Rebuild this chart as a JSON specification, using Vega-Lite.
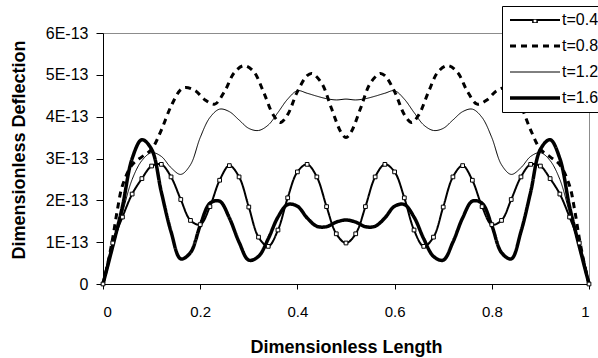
{
  "$schema": "https://vega.github.io/schema/vega-lite/v6.json",
  "width": 486,
  "height": 251,
  "autosize": {"type": "none"},
  "padding": {"left": 103, "top": 33, "right": 9, "bottom": 74},
  "background": "white",
  "config": {
    "view": {"stroke": "#8c8c8c", "strokeWidth": 1},
    "axis": {"grid": false, "domainColor": "#000", "tickColor": "#000", "labelColor": "#000", "titleColor": "#000", "labelFont": "Liberation Sans", "titleFont": "Liberation Sans", "titleFontWeight": "bold", "titleFontSize": 18},
    "legend": {"labelFont": "Liberation Sans"}
  },
  "data": {"values": [
    {"s":"t=0.4","x":0,"y":0},{"s":"t=0.4","x":0.02,"y":0.98e-13},{"s":"t=0.4","x":0.04,"y":1.6e-13},{"s":"t=0.4","x":0.06,"y":2.15e-13},{"s":"t=0.4","x":0.08,"y":2.52e-13},{"s":"t=0.4","x":0.10,"y":2.82e-13},{"s":"t=0.4","x":0.12,"y":2.86e-13},{"s":"t=0.4","x":0.14,"y":2.56e-13},{"s":"t=0.4","x":0.16,"y":2.02e-13},{"s":"t=0.4","x":0.18,"y":1.52e-13},{"s":"t=0.4","x":0.20,"y":1.42e-13},{"s":"t=0.4","x":0.22,"y":1.85e-13},{"s":"t=0.4","x":0.24,"y":2.48e-13},{"s":"t=0.4","x":0.26,"y":2.83e-13},{"s":"t=0.4","x":0.28,"y":2.56e-13},{"s":"t=0.4","x":0.30,"y":1.84e-13},{"s":"t=0.4","x":0.32,"y":1.12e-13},{"s":"t=0.4","x":0.34,"y":0.9e-13},{"s":"t=0.4","x":0.36,"y":1.29e-13},{"s":"t=0.4","x":0.38,"y":2.06e-13},{"s":"t=0.4","x":0.40,"y":2.68e-13},{"s":"t=0.4","x":0.42,"y":2.86e-13},{"s":"t=0.4","x":0.44,"y":2.56e-13},{"s":"t=0.4","x":0.46,"y":1.85e-13},{"s":"t=0.4","x":0.48,"y":1.2e-13},{"s":"t=0.4","x":0.50,"y":0.98e-13},{"s":"t=0.4","x":0.52,"y":1.2e-13},{"s":"t=0.4","x":0.54,"y":1.85e-13},{"s":"t=0.4","x":0.56,"y":2.56e-13},{"s":"t=0.4","x":0.58,"y":2.86e-13},{"s":"t=0.4","x":0.60,"y":2.68e-13},{"s":"t=0.4","x":0.62,"y":2.06e-13},{"s":"t=0.4","x":0.64,"y":1.29e-13},{"s":"t=0.4","x":0.66,"y":0.9e-13},{"s":"t=0.4","x":0.68,"y":1.12e-13},{"s":"t=0.4","x":0.70,"y":1.84e-13},{"s":"t=0.4","x":0.72,"y":2.56e-13},{"s":"t=0.4","x":0.74,"y":2.83e-13},{"s":"t=0.4","x":0.76,"y":2.48e-13},{"s":"t=0.4","x":0.78,"y":1.85e-13},{"s":"t=0.4","x":0.80,"y":1.42e-13},{"s":"t=0.4","x":0.82,"y":1.52e-13},{"s":"t=0.4","x":0.84,"y":2.02e-13},{"s":"t=0.4","x":0.86,"y":2.56e-13},{"s":"t=0.4","x":0.88,"y":2.86e-13},{"s":"t=0.4","x":0.90,"y":2.82e-13},{"s":"t=0.4","x":0.92,"y":2.52e-13},{"s":"t=0.4","x":0.94,"y":2.15e-13},{"s":"t=0.4","x":0.96,"y":1.6e-13},{"s":"t=0.4","x":0.98,"y":0.98e-13},{"s":"t=0.4","x":1,"y":0},
    {"s":"t=0.8","x":0,"y":0},{"s":"t=0.8","x":0.01,"y":0.5e-13},{"s":"t=0.8","x":0.02,"y":1.1e-13},{"s":"t=0.8","x":0.03,"y":1.8e-13},{"s":"t=0.8","x":0.04,"y":2.35e-13},{"s":"t=0.8","x":0.06,"y":2.85e-13},{"s":"t=0.8","x":0.08,"y":3.04e-13},{"s":"t=0.8","x":0.10,"y":3.22e-13},{"s":"t=0.8","x":0.12,"y":3.68e-13},{"s":"t=0.8","x":0.14,"y":4.25e-13},{"s":"t=0.8","x":0.16,"y":4.65e-13},{"s":"t=0.8","x":0.17,"y":4.7e-13},{"s":"t=0.8","x":0.19,"y":4.62e-13},{"s":"t=0.8","x":0.21,"y":4.4e-13},{"s":"t=0.8","x":0.23,"y":4.3e-13},{"s":"t=0.8","x":0.25,"y":4.6e-13},{"s":"t=0.8","x":0.27,"y":5.05e-13},{"s":"t=0.8","x":0.29,"y":5.22e-13},{"s":"t=0.8","x":0.31,"y":5.08e-13},{"s":"t=0.8","x":0.33,"y":4.6e-13},{"s":"t=0.8","x":0.35,"y":4.05e-13},{"s":"t=0.8","x":0.365,"y":3.86e-13},{"s":"t=0.8","x":0.38,"y":4.05e-13},{"s":"t=0.8","x":0.40,"y":4.6e-13},{"s":"t=0.8","x":0.42,"y":4.98e-13},{"s":"t=0.8","x":0.43,"y":5.03e-13},{"s":"t=0.8","x":0.45,"y":4.8e-13},{"s":"t=0.8","x":0.47,"y":4.2e-13},{"s":"t=0.8","x":0.49,"y":3.62e-13},{"s":"t=0.8","x":0.50,"y":3.5e-13},{"s":"t=0.8","x":0.51,"y":3.62e-13},{"s":"t=0.8","x":0.53,"y":4.2e-13},{"s":"t=0.8","x":0.55,"y":4.8e-13},{"s":"t=0.8","x":0.57,"y":5.03e-13},{"s":"t=0.8","x":0.58,"y":4.98e-13},{"s":"t=0.8","x":0.60,"y":4.6e-13},{"s":"t=0.8","x":0.62,"y":4.05e-13},{"s":"t=0.8","x":0.635,"y":3.86e-13},{"s":"t=0.8","x":0.65,"y":4.05e-13},{"s":"t=0.8","x":0.67,"y":4.6e-13},{"s":"t=0.8","x":0.69,"y":5.08e-13},{"s":"t=0.8","x":0.71,"y":5.22e-13},{"s":"t=0.8","x":0.73,"y":5.05e-13},{"s":"t=0.8","x":0.75,"y":4.6e-13},{"s":"t=0.8","x":0.77,"y":4.3e-13},{"s":"t=0.8","x":0.79,"y":4.4e-13},{"s":"t=0.8","x":0.81,"y":4.62e-13},{"s":"t=0.8","x":0.83,"y":4.7e-13},{"s":"t=0.8","x":0.84,"y":4.65e-13},{"s":"t=0.8","x":0.86,"y":4.25e-13},{"s":"t=0.8","x":0.88,"y":3.68e-13},{"s":"t=0.8","x":0.90,"y":3.22e-13},{"s":"t=0.8","x":0.92,"y":3.04e-13},{"s":"t=0.8","x":0.94,"y":2.85e-13},{"s":"t=0.8","x":0.96,"y":2.35e-13},{"s":"t=0.8","x":0.97,"y":1.8e-13},{"s":"t=0.8","x":0.98,"y":1.1e-13},{"s":"t=0.8","x":0.99,"y":0.5e-13},{"s":"t=0.8","x":1,"y":0},
    {"s":"t=1.2","x":0,"y":0},{"s":"t=1.2","x":0.02,"y":0.85e-13},{"s":"t=1.2","x":0.04,"y":1.7e-13},{"s":"t=1.2","x":0.06,"y":2.5e-13},{"s":"t=1.2","x":0.08,"y":2.95e-13},{"s":"t=1.2","x":0.10,"y":3.14e-13},{"s":"t=1.2","x":0.12,"y":3.05e-13},{"s":"t=1.2","x":0.14,"y":2.78e-13},{"s":"t=1.2","x":0.16,"y":2.62e-13},{"s":"t=1.2","x":0.18,"y":2.85e-13},{"s":"t=1.2","x":0.20,"y":3.5e-13},{"s":"t=1.2","x":0.22,"y":3.98e-13},{"s":"t=1.2","x":0.24,"y":4.18e-13},{"s":"t=1.2","x":0.26,"y":4.12e-13},{"s":"t=1.2","x":0.28,"y":3.92e-13},{"s":"t=1.2","x":0.30,"y":3.72e-13},{"s":"t=1.2","x":0.32,"y":3.67e-13},{"s":"t=1.2","x":0.34,"y":3.8e-13},{"s":"t=1.2","x":0.36,"y":4.1e-13},{"s":"t=1.2","x":0.38,"y":4.42e-13},{"s":"t=1.2","x":0.40,"y":4.62e-13},{"s":"t=1.2","x":0.42,"y":4.56e-13},{"s":"t=1.2","x":0.44,"y":4.49e-13},{"s":"t=1.2","x":0.46,"y":4.43e-13},{"s":"t=1.2","x":0.48,"y":4.4e-13},{"s":"t=1.2","x":0.50,"y":4.42e-13},{"s":"t=1.2","x":0.52,"y":4.4e-13},{"s":"t=1.2","x":0.54,"y":4.43e-13},{"s":"t=1.2","x":0.56,"y":4.49e-13},{"s":"t=1.2","x":0.58,"y":4.56e-13},{"s":"t=1.2","x":0.60,"y":4.62e-13},{"s":"t=1.2","x":0.62,"y":4.42e-13},{"s":"t=1.2","x":0.64,"y":4.1e-13},{"s":"t=1.2","x":0.66,"y":3.8e-13},{"s":"t=1.2","x":0.68,"y":3.67e-13},{"s":"t=1.2","x":0.70,"y":3.72e-13},{"s":"t=1.2","x":0.72,"y":3.92e-13},{"s":"t=1.2","x":0.74,"y":4.12e-13},{"s":"t=1.2","x":0.76,"y":4.18e-13},{"s":"t=1.2","x":0.78,"y":3.98e-13},{"s":"t=1.2","x":0.80,"y":3.5e-13},{"s":"t=1.2","x":0.82,"y":2.85e-13},{"s":"t=1.2","x":0.84,"y":2.62e-13},{"s":"t=1.2","x":0.86,"y":2.78e-13},{"s":"t=1.2","x":0.88,"y":3.05e-13},{"s":"t=1.2","x":0.90,"y":3.14e-13},{"s":"t=1.2","x":0.92,"y":2.95e-13},{"s":"t=1.2","x":0.94,"y":2.5e-13},{"s":"t=1.2","x":0.96,"y":1.7e-13},{"s":"t=1.2","x":0.98,"y":0.85e-13},{"s":"t=1.2","x":1,"y":0},
    {"s":"t=1.6","x":0,"y":0},{"s":"t=1.6","x":0.02,"y":0.9e-13},{"s":"t=1.6","x":0.04,"y":1.85e-13},{"s":"t=1.6","x":0.06,"y":3.0e-13},{"s":"t=1.6","x":0.08,"y":3.45e-13},{"s":"t=1.6","x":0.10,"y":3.22e-13},{"s":"t=1.6","x":0.12,"y":2.2e-13},{"s":"t=1.6","x":0.14,"y":1.25e-13},{"s":"t=1.6","x":0.16,"y":0.6e-13},{"s":"t=1.6","x":0.18,"y":0.75e-13},{"s":"t=1.6","x":0.20,"y":1.4e-13},{"s":"t=1.6","x":0.22,"y":1.93e-13},{"s":"t=1.6","x":0.24,"y":1.98e-13},{"s":"t=1.6","x":0.26,"y":1.58e-13},{"s":"t=1.6","x":0.28,"y":1.0e-13},{"s":"t=1.6","x":0.30,"y":0.57e-13},{"s":"t=1.6","x":0.32,"y":0.66e-13},{"s":"t=1.6","x":0.34,"y":1.08e-13},{"s":"t=1.6","x":0.36,"y":1.6e-13},{"s":"t=1.6","x":0.38,"y":1.9e-13},{"s":"t=1.6","x":0.40,"y":1.86e-13},{"s":"t=1.6","x":0.42,"y":1.58e-13},{"s":"t=1.6","x":0.44,"y":1.38e-13},{"s":"t=1.6","x":0.46,"y":1.37e-13},{"s":"t=1.6","x":0.48,"y":1.48e-13},{"s":"t=1.6","x":0.50,"y":1.53e-13},{"s":"t=1.6","x":0.52,"y":1.48e-13},{"s":"t=1.6","x":0.54,"y":1.37e-13},{"s":"t=1.6","x":0.56,"y":1.38e-13},{"s":"t=1.6","x":0.58,"y":1.58e-13},{"s":"t=1.6","x":0.60,"y":1.86e-13},{"s":"t=1.6","x":0.62,"y":1.9e-13},{"s":"t=1.6","x":0.64,"y":1.6e-13},{"s":"t=1.6","x":0.66,"y":1.08e-13},{"s":"t=1.6","x":0.68,"y":0.66e-13},{"s":"t=1.6","x":0.70,"y":0.57e-13},{"s":"t=1.6","x":0.72,"y":1.0e-13},{"s":"t=1.6","x":0.74,"y":1.58e-13},{"s":"t=1.6","x":0.76,"y":1.98e-13},{"s":"t=1.6","x":0.78,"y":1.93e-13},{"s":"t=1.6","x":0.80,"y":1.4e-13},{"s":"t=1.6","x":0.82,"y":0.75e-13},{"s":"t=1.6","x":0.84,"y":0.6e-13},{"s":"t=1.6","x":0.86,"y":1.25e-13},{"s":"t=1.6","x":0.88,"y":2.2e-13},{"s":"t=1.6","x":0.90,"y":3.22e-13},{"s":"t=1.6","x":0.92,"y":3.45e-13},{"s":"t=1.6","x":0.94,"y":3.0e-13},{"s":"t=1.6","x":0.96,"y":1.85e-13},{"s":"t=1.6","x":0.98,"y":0.9e-13},{"s":"t=1.6","x":1,"y":0}
  ]},
  "encoding": {
    "x": {"field": "x", "type": "quantitative", "scale": {"domain": [0, 1], "nice": false, "zero": false},
      "axis": {"title": "Dimensionless Length", "values": [0, 0.2, 0.4, 0.6, 0.8, 1], "format": "~g", "tickSize": 5, "labelFontSize": 15, "labelBaseline": "alphabetic", "labelPadding": 27, "titleBaseline": "alphabetic", "titleY": 68, "titleX": 243}},
    "y": {"field": "y", "type": "quantitative", "scale": {"domain": [0, 6e-13], "nice": false},
      "axis": {"title": "Dimensionless Deflection", "values": [0, 1e-13, 2e-13, 3e-13, 4e-13, 5e-13, 6e-13], "labelExpr": "datum.value == 0 ? '0' : round(datum.value * 1e13) + 'E-13'", "tickSize": 7, "labelPadding": 8, "labelFontSize": 16, "titleBaseline": "alphabetic", "titleX": -79, "titleY": 116.5, "titleAngle": -90, "titleAlign": "center"}}
  },
  "layer": [
    {
      "mark": {"type": "line", "interpolate": "catmull-rom", "color": "black"},
      "encoding": {
        "strokeDash": {"field": "s", "type": "nominal", "scale": {"domain": ["t=0.4", "t=0.8", "t=1.2", "t=1.6"], "range": [[1, 0], [6, 5], [1, 0], [1, 0]]},
          "legend": {"title": null, "orient": "none", "legendX": 399, "legendY": -27, "fillColor": "white", "strokeColor": "black", "padding": 6, "symbolType": "stroke", "symbolSize": 2500, "symbolStrokeColor": "black", "clipHeight": 16, "rowPadding": 10, "labelFontSize": 16, "labelOffset": 0, "labelColor": "black"}},
        "strokeWidth": {"field": "s", "type": "nominal", "scale": {"type": "ordinal", "domain": ["t=0.4", "t=0.8", "t=1.2", "t=1.6"], "range": [2, 3, 1, 3.5]},
          "legend": {"title": null, "orient": "none", "legendX": 399, "legendY": -27, "fillColor": "white", "strokeColor": "black", "padding": 6, "symbolType": "stroke", "symbolSize": 2500, "symbolStrokeColor": "black", "clipHeight": 16, "rowPadding": 10, "labelFontSize": 16, "labelOffset": 0, "labelColor": "black"}}
      }
    },
    {
      "transform": [{"filter": "datum.s == 't=0.4'"}],
      "mark": {"type": "point", "filled": true, "fill": "white", "stroke": "black", "strokeWidth": 1, "size": 14, "opacity": 1},
      "encoding": {
        "shape": {"field": "s", "type": "nominal", "scale": {"domain": ["t=0.4"], "range": ["square"]},
          "legend": {"title": null, "orient": "none", "legendX": 429, "legendY": -14, "padding": 0, "symbolSize": 18, "labelExpr": "''", "labelFontSize": 1, "labelOffset": 0, "clipHeight": 4,
            "encode": {"symbols": {"update": {"fill": {"value": "white"}, "stroke": {"value": "black"}, "strokeWidth": {"value": 1}, "opacity": {"value": 1}}}}}}
      }
    }
  ]
}
